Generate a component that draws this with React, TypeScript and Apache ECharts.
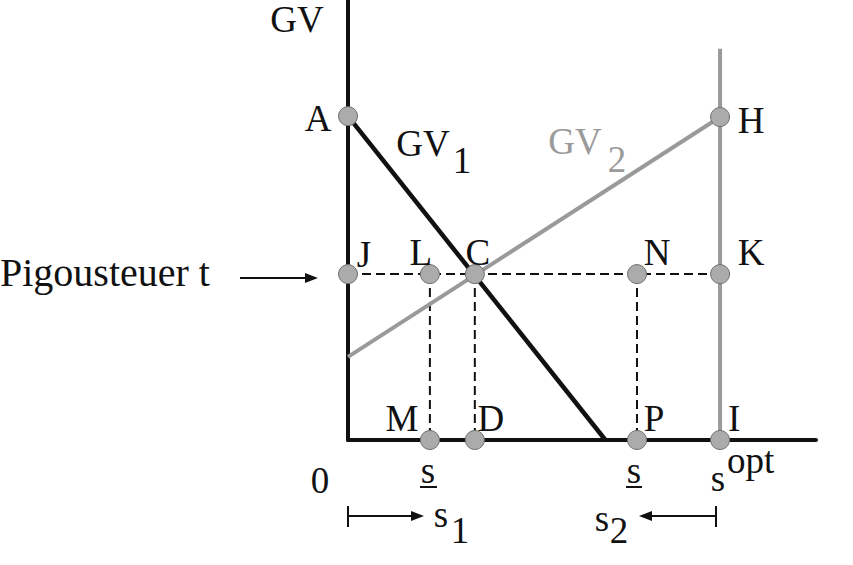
import React, { useEffect, useRef } from "react";
import * as echarts from "echarts";

// ---- data (in abstract economic units) ----
const sOpt = 79.5; // optimal s
const sLower1 = 17.5; // s underline (left)
const sC = 27.1; // intersection C
const sLower2 = 61.75; // s underline (right)
const taxLevel = 37.7; // Pigou tax t
const sOptTop = 88.9;
const gv1Line: [number, number][] = [
  [0, 73.6],
  [55, 0],
];
const gv2Line: [number, number][] = [
  [0, 18.9],
  [79.5, 73.4],
];
const pointNames = ["A", "H", "J", "L", "C", "N", "K", "M", "D", "P", "I"];
const pointValues: [number, number][] = [
  [0, 73.6],
  [sOpt, 73.4],
  [0, taxLevel],
  [sLower1, taxLevel],
  [sC, taxLevel],
  [sLower2, taxLevel],
  [sOpt, taxLevel],
  [sLower1, 0],
  [sC, 0],
  [sLower2, 0],
  [sOpt, 0],
];

// label offsets (px) relative to each point
const labelOffsets: Record<string, [number, number]> = {
  A: [-30, 2],
  H: [31, 3],
  J: [16, -20],
  L: [-9, -22],
  C: [3, -22],
  N: [20, -22],
  K: [31, -22],
  M: [-28, -22],
  D: [16, -22],
  P: [17, -22],
  I: [14, -22],
};

const FONT = "'Liberation Serif', 'Times New Roman', serif";
const GRAY = "#9a9a9a";

export default function App() {
  const ref = useRef<HTMLDivElement>(null);
  useEffect(() => {
    if (!ref.current) return;
    const chart = echarts.init(ref.current, null, { renderer: "svg" });
    const txt = (
      text: string,
      x: number,
      y: number,
      opts: { size?: number; color?: string; align?: string } = {}
    ) => ({
      type: "text",
      x,
      y,
      z: 10,
      style: {
        text,
        fill: opts.color || "#111",
        font: `${opts.size || 37}px ${FONT}`,
        textAlign: opts.align || "center",
        textVerticalAlign: "middle",
      },
    });
    const seg = (x1: number, y1: number, x2: number, y2: number, w = 2) => ({
      type: "line",
      z: 10,
      shape: { x1, y1, x2, y2 },
      style: { stroke: "#111", lineWidth: w },
    });
    const head = (pts: number[][]) => ({
      type: "polygon",
      z: 10,
      shape: { points: pts },
      style: { fill: "#111" },
    });
    const dashed = {
      type: "line" as const,
      symbol: "none",
      lineStyle: { color: "#111", width: 2, type: [9, 5] as any },
      z: 2,
    };
    chart.setOption({
      animation: false,
      grid: { left: 348, top: 0, width: 468, height: 440 },
      xAxis: {
        type: "value",
        min: 0,
        max: 100,
        axisLine: { show: true, lineStyle: { color: "#111", width: 4 } },
        axisTick: { show: false },
        axisLabel: { show: false },
        splitLine: { show: false },
      },
      yAxis: {
        type: "value",
        min: 0,
        max: 100,
        axisLine: { show: true, lineStyle: { color: "#111", width: 4 } },
        axisTick: { show: false },
        axisLabel: { show: false },
        splitLine: { show: false },
      },
      series: [
        { ...dashed, data: [[0, taxLevel], [sOpt, taxLevel]] },
        { ...dashed, data: [[sLower1, taxLevel], [sLower1, 0]] },
        { ...dashed, data: [[sC, taxLevel], [sC, 0]] },
        { ...dashed, data: [[sLower2, taxLevel], [sLower2, 0]] },
        {
          type: "line",
          symbol: "none",
          data: [[sOpt, 0], [sOpt, sOptTop]],
          lineStyle: { color: GRAY, width: 4 },
          z: 3,
        },
        {
          type: "line",
          symbol: "none",
          data: gv1Line,
          lineStyle: { color: "#111", width: 4.5 },
          z: 4,
        },
        {
          type: "line",
          symbol: "none",
          data: gv2Line,
          lineStyle: { color: GRAY, width: 4 },
          z: 4,
        },
        {
          type: "scatter",
          z: 6,
          symbolSize: 19,
          itemStyle: { color: "#ababab", borderColor: "#6f6f6f", borderWidth: 1, opacity: 1 },
          data: pointNames.map((n, i) => ({
            name: n,
            value: pointValues[i],
            label: {
              show: true,
              formatter: "{b}",
              position: "inside",
              offset: labelOffsets[n],
              fontSize: 37,
              fontFamily: FONT,
              color: "#111",
            },
          })),
        },
      ],
      graphic: [
        txt("GV", 297, 19.5),
        txt("GV", 423, 143),
        txt("1", 462, 160),
        txt("GV", 575, 141, { color: GRAY }),
        txt("2", 617, 159, { color: GRAY }),
        txt("Pigousteuer t", 0, 272, { size: 40, align: "left" }),
        txt("0", 320, 480),
        txt("s", 428, 470),
        seg(420, 487, 437, 487, 2),
        txt("s", 634, 470),
        seg(626, 487, 642, 487, 2),
        txt("s", 718, 478),
        txt("opt", 727, 460, { align: "left" }),
        txt("s", 441, 514),
        txt("1", 460, 530),
        txt("s", 602, 518),
        txt("2", 619, 530),
        // Pigou arrow
        seg(240, 278, 310, 278, 2),
        head([[305, 273], [318, 278], [305, 283]]),
        // s1 arrow
        seg(348, 506, 348, 527, 2),
        seg(348, 516, 414, 516, 2),
        head([[411, 511], [424, 516], [411, 521]]),
        // s2 arrow
        seg(716, 506, 716, 527, 2),
        seg(648, 516, 716, 516, 2),
        head([[652, 511], [639, 516], [652, 521]]),
      ],
    });
    return () => chart.dispose();
  }, []);
  return (
    <div
      ref={ref}
      style={{ position: "absolute", left: 0, top: 0, width: 853, height: 565, background: "#fff" }}
    />
  );
}
